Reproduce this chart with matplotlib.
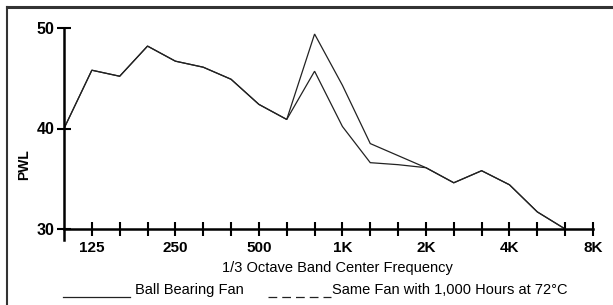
import matplotlib.pyplot as plt
from matplotlib.lines import Line2D

# 1/3 octave bands, 100 Hz .. 8 kHz (index positions)
bands = ["100", "125", "160", "200", "250", "315", "400", "500", "630", "800",
         "1K", "1.25K", "1.6K", "2K", "2.5K", "3.15K", "4K", "5K", "6.3K", "8K"]
label_bands = ["125", "250", "500", "1K", "2K", "4K", "8K"]

# PWL values (100 Hz .. 6.3 kHz)
ball_bearing = [40.0, 45.8, 45.2, 48.2, 46.7, 46.1, 44.9, 42.4, 40.9, 45.7,
                40.2, 36.6, 36.4, 36.1, 34.6, 35.8, 34.4, 31.7, 30.0]
after_1000h = [40.0, 45.8, 45.2, 48.2, 46.7, 46.1, 44.9, 42.4, 40.9, 49.4,
               44.3, 38.5, 37.3, 36.1, 34.6, 35.8, 34.4, 31.7, 30.0]

plt.rcParams['font.family'] = ['Liberation Sans', 'DejaVu Sans']

fig = plt.figure(figsize=(6.13, 3.05), dpi=100)
ax = fig.add_axes([64/613, 1 - 229/305, 529/613, 201/305])

x = list(range(len(ball_bearing)))
ax.plot(x, after_1000h, color='#222222', lw=0.9, solid_joinstyle='miter')
ax.plot(x, ball_bearing, color='#222222', lw=0.9, solid_joinstyle='miter')

ax.set_xlim(0, len(bands) - 1)
ax.set_ylim(30, 50)
for s in ['top', 'right']:
    ax.spines[s].set_visible(False)
for s in ['left', 'bottom']:
    ax.spines[s].set_linewidth(1.8)
ax.spines['left'].set_bounds(28.9, 50)

ax.set_xticks(range(1, len(bands)))
ax.set_xticklabels([b if b in label_bands else "" for b in bands[1:]],
                   fontweight='bold', fontsize=11)
ax.set_yticks([30, 40, 50])
ax.set_yticklabels(["30", "40", "50"], fontweight='bold', fontsize=11.5)
ax.tick_params(axis='both', direction='inout', length=10, width=1.5, color='black')
ax.tick_params(axis='x', pad=4)
ax.tick_params(axis='y', pad=2)

fig.text(24/613, 1 - 165/305, "PWL", rotation=90, ha='center', va='center',
         fontweight='bold', fontsize=10)
fig.text(337/613, 1 - 268/305, "1/3 Octave Band Center Frequency",
         ha='center', va='center', fontsize=10.5)

# legend drawn as in the original (line + text)
fig.add_artist(Line2D([63/613, 130/613], [1 - 297/305] * 2, color='#222222', lw=0.9))
fig.text(135/613, 1 - 290/305, "Ball Bearing Fan", ha='left', va='center', fontsize=10.5)
fig.add_artist(Line2D([268/613, 331/613], [1 - 297/305] * 2, color='#222222', lw=0.9,
                      dashes=(7, 4)))
fig.text(332/613, 1 - 290/305, "Same Fan with 1,000 Hours at 72°C",
         ha='left', va='center', fontsize=10.5)

# outer frame (top and left edges)
fig.add_artist(Line2D([7/613, 1], [1 - 7/305] * 2, color='#333333', lw=2.2))
fig.add_artist(Line2D([7/613] * 2, [0, 1 - 7/305], color='#333333', lw=1.5))

fig.savefig("out.png", dpi=100)
